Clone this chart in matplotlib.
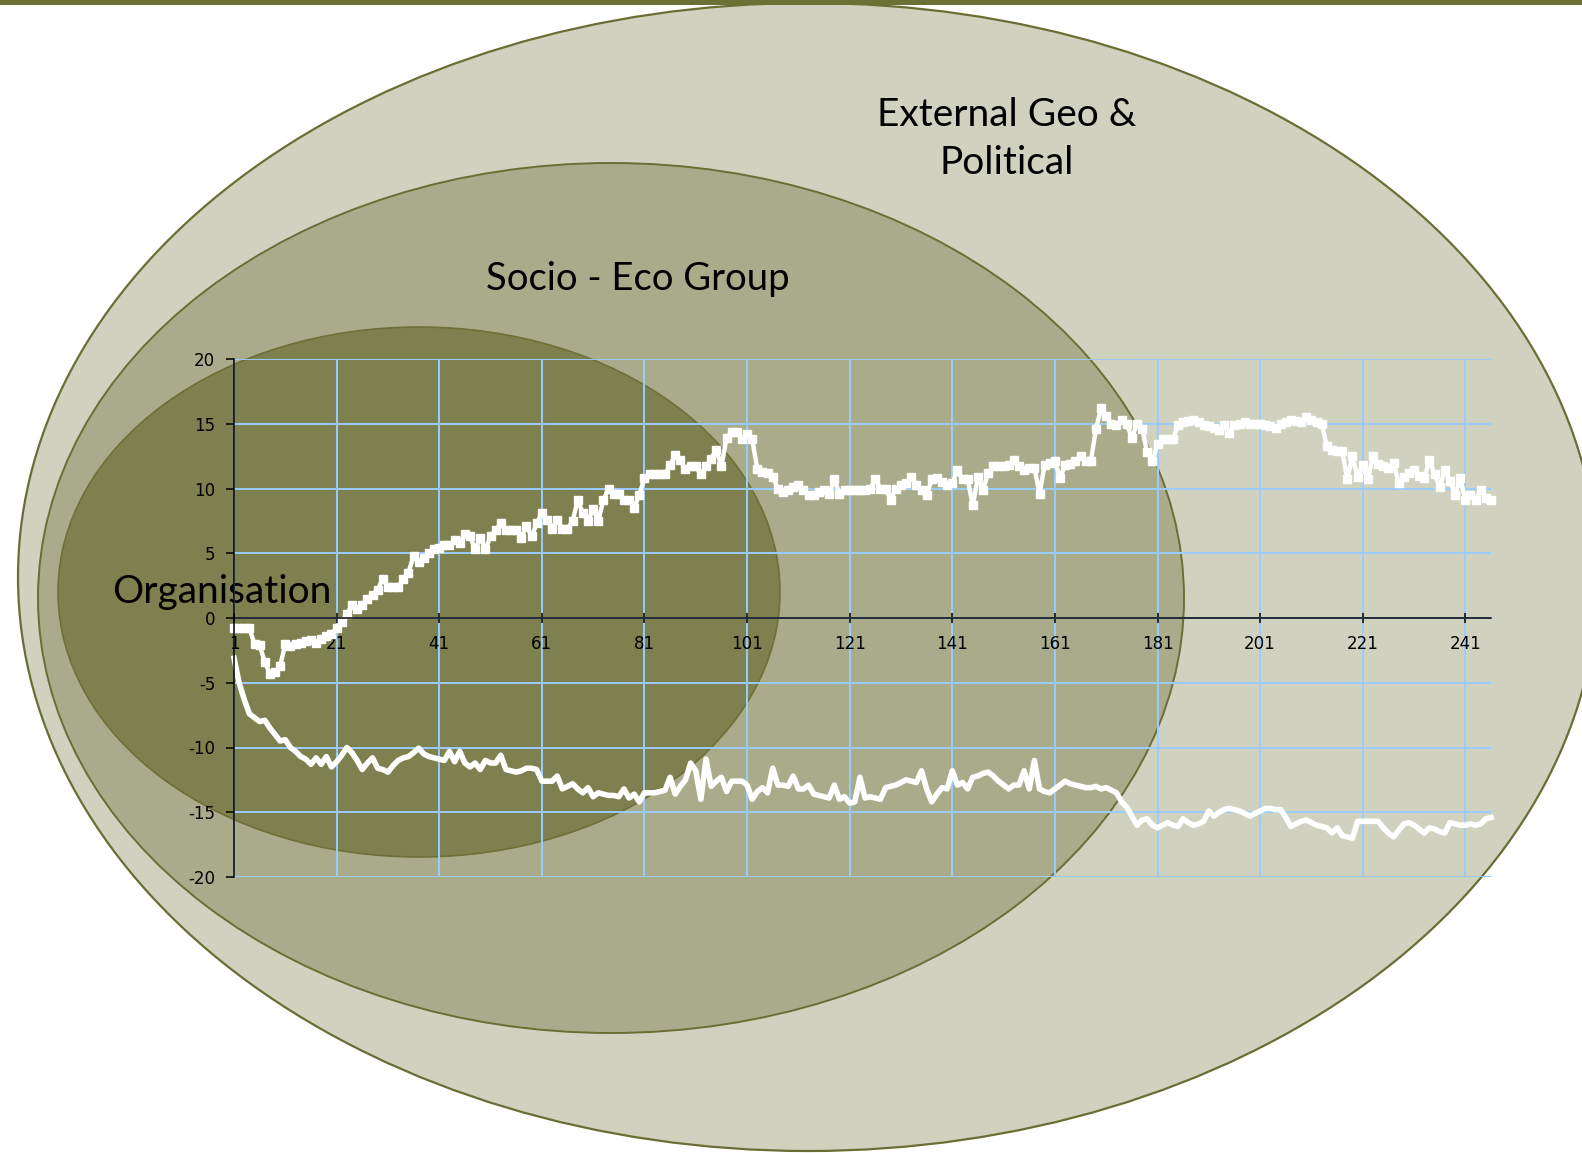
import matplotlib
matplotlib.use("Agg")
import matplotlib.pyplot as plt
from matplotlib.patches import Ellipse, Rectangle

plt.rcParams['axes.unicode_minus'] = False

# series (one value per period, 246 periods)
upper = [-0.8, -0.8, -0.8, -0.8, -2.0, -2.1, -3.4, -4.3, -4.2, -3.7,
         -2.0, -2.2, -2.0, -1.9, -1.8, -1.7, -1.9, -1.6, -1.4, -1.2,
         -0.8, -0.3, 0.3, 1.0, 0.7, 1.0, 1.5, 1.8, 2.2, 3.0,
         2.4, 2.4, 2.4, 3.0, 3.5, 4.8, 4.3, 4.6, 5.0, 5.3,
         5.4, 5.6, 5.6, 6.0, 5.8, 6.5, 6.3, 5.3, 6.2, 5.3,
         6.3, 6.8, 7.3, 6.8, 6.8, 6.8, 6.2, 7.1, 6.3, 7.3,
         8.1, 7.6, 6.9, 7.6, 6.9, 6.9, 7.5, 9.1, 8.1, 7.5,
         8.4, 7.5, 9.1, 10.0, 9.6, 9.6, 9.1, 9.1, 8.5, 9.5,
         10.8, 11.1, 11.1, 11.1, 11.1, 11.8, 12.6, 12.2, 11.5, 11.7,
         11.7, 11.1, 11.7, 12.3, 13.0, 11.7, 13.9, 14.4, 14.4, 13.8,
         14.2, 13.8, 11.5, 11.3, 11.2, 10.9, 10.0, 9.75, 9.9, 10.1,
         10.3, 9.9, 9.5, 9.5, 9.7, 9.9, 9.6, 10.7, 9.6, 9.9,
         9.9, 9.9, 9.9, 9.9, 10.0, 10.7, 10.0, 10.0, 9.1, 10.0,
         10.3, 10.4, 10.9, 10.3, 9.9, 9.5, 10.7, 10.8, 10.5, 10.3,
         10.4, 11.4, 10.7, 10.7, 8.7, 10.9, 9.9, 11.2, 11.7, 11.7,
         11.7, 11.8, 12.2, 11.7, 11.4, 11.6, 11.6, 9.6, 11.8, 12.0,
         12.1, 10.8, 11.8, 11.9, 12.1, 12.5, 12.1, 12.1, 14.6, 16.2,
         15.6, 15.0, 14.9, 15.3, 15.0, 13.9, 15.0, 14.6, 12.8, 12.1,
         13.4, 13.8, 13.8, 13.8, 14.9, 15.1, 15.2, 15.3, 15.1, 14.9,
         14.8, 14.7, 14.5, 14.9, 14.3, 14.9, 15.0, 15.1, 15.0, 15.0,
         15.0, 14.9, 14.8, 14.7, 15.0, 15.1, 15.3, 15.2, 15.1, 15.5,
         15.3, 15.1, 15.0, 13.3, 13.0, 12.9, 12.9, 10.7, 12.5, 10.9,
         11.8, 10.7, 12.5, 11.9, 11.7, 11.6, 12.0, 10.4, 10.9, 11.2,
         11.4, 11.0, 10.8, 12.2, 11.1, 10.1, 11.4, 10.6, 9.5, 10.8,
         9.1, 9.5, 9.1, 9.9, 9.3, 9.1]

lower = [-3.1, -5.0, -6.3, -7.4, -7.7, -8.0, -7.9, -8.5, -9.0, -9.5,
         -9.4, -10.0, -10.3, -10.7, -10.9, -11.3, -10.8, -11.3, -10.7, -11.5,
         -11.1, -10.6, -10.0, -10.4, -11.0, -11.7, -11.2, -10.8, -11.6, -11.7,
         -11.9, -11.4, -11.0, -10.8, -10.7, -10.4, -10.05, -10.5, -10.7, -10.8,
         -10.9, -11.0, -10.3, -11.1, -10.3, -11.2, -11.5, -11.2, -11.7, -11.0,
         -11.2, -11.2, -10.6, -11.7, -11.8, -11.9, -11.8, -11.6, -11.6, -11.7,
         -12.6, -12.6, -12.6, -12.2, -13.2, -13.0, -12.8, -13.2, -13.5, -13.1,
         -13.8, -13.5, -13.6, -13.7, -13.7, -13.8, -13.2, -13.9, -13.6, -14.2,
         -13.5, -13.5, -13.5, -13.4, -13.3, -12.3, -13.6, -13.0, -12.5, -11.2,
         -11.8, -14.0, -10.9, -13.0, -12.6, -12.3, -13.4, -12.6, -12.6, -12.6,
         -12.9, -14.0, -13.4, -13.1, -13.5, -11.6, -12.9, -12.9, -13.0, -12.2,
         -13.2, -13.2, -12.9, -13.6, -13.7, -13.8, -13.9, -12.9, -14.0, -13.8,
         -14.3, -14.2, -12.3, -13.9, -13.8, -13.9, -14.0, -13.1, -13.0, -12.9,
         -12.7, -12.5, -12.6, -12.7, -11.8, -13.2, -14.2, -13.6, -13.1, -13.2,
         -11.8, -12.9, -12.7, -13.2, -12.3, -12.2, -12.0, -11.9, -12.2, -12.6,
         -12.9, -13.2, -12.9, -12.9, -11.8, -13.2, -11.0, -13.2, -13.4, -13.5,
         -13.2, -12.9, -12.6, -12.8, -12.9, -13.0, -13.1, -13.1, -13.0, -13.2,
         -13.1, -13.3, -13.5, -14.2, -14.6, -15.3, -16.0, -15.6, -15.5, -16.0,
         -16.2, -16.0, -15.8, -16.0, -16.1, -15.5, -15.8, -16.0, -15.9, -15.7,
         -14.9, -15.3, -15.0, -14.8, -14.7, -14.8, -14.9, -15.1, -15.3, -15.1,
         -14.9, -14.7, -14.7, -14.8, -14.8, -15.4, -16.1, -15.9, -15.7, -15.6,
         -15.8, -16.0, -16.1, -16.2, -16.6, -16.2, -16.8, -16.9, -17.0, -15.7,
         -15.7, -15.7, -15.7, -15.7, -16.2, -16.6, -16.9, -16.4, -15.9, -15.8,
         -16.0, -16.3, -16.6, -16.2, -16.3, -16.5, -16.6, -15.8, -15.9, -16.0,
         -16.0, -15.9, -16.0, -15.9, -15.5, -15.4]

periods = list(range(1, len(upper) + 1))
xticks = list(range(1, 242, 20))
yticks = list(range(-20, 21, 5))
circle_labels = ["External Geo &\nPolitical", "Socio - Eco Group", "Organisation"]

W, H = 1582, 1153
fig = plt.figure(figsize=(W / 100, H / 100), dpi=100)

# background layer in pixel coords: nested ellipses
bg = fig.add_axes([0, 0, 1, 1])
bg.set_xlim(0, W)
bg.set_ylim(H, 0)
bg.axis('off')

edge = '#6B6E34'
bg.add_patch(Ellipse((808, 577), 2 * 790, 2 * 574, fc='#D0D1BE', ec=edge, lw=1.6))
bg.add_patch(Ellipse((611, 598), 2 * 573, 2 * 435, fc='#AAAB8A', ec=edge, lw=1.4))
bg.add_patch(Ellipse((419, 592), 2 * 361, 2 * 265, fc='#7F8050', ec='#6E7038', lw=1.2))
bg.add_patch(Rectangle((0, 0), W, 5, fc='#6B7035', ec='none'))

font = 'Lato'
bg.text(1007, 139, circle_labels[0], ha='center', va='center', fontsize=28,
        family=font, linespacing=1.4)
bg.text(638, 279, circle_labels[1], ha='center', va='center', fontsize=27.5, family=font)
bg.text(112, 592, circle_labels[2], ha='left', va='center', fontsize=28, family=font)

# the line chart on top
ax = fig.add_axes([234 / W, 1 - 877 / H, (1491 - 234) / W, (877 - 359) / H])
ax.patch.set_alpha(0)
ax.set_xlim(1, len(upper))
ax.set_ylim(-20, 20)
ax.set_xticks(xticks)
ax.set_yticks(yticks)
ax.set_axisbelow(True)
ax.grid(True, color='#99CCFF', lw=1.4)

ax.plot(periods, lower, color='white', lw=4, solid_joinstyle='round', clip_on=False)
ax.plot(periods, upper, color='white', lw=3.2, marker='s', ms=6, clip_on=False)

ax.spines['top'].set_visible(False)
ax.spines['right'].set_visible(False)
ax.spines['bottom'].set_position(('data', 0))
ax.spines['bottom'].set_linewidth(1.1)
ax.spines['left'].set_linewidth(1.1)
ax.tick_params(axis='y', direction='out', length=5.5, width=1.1, pad=8, labelsize=12)
ax.tick_params(axis='x', direction='inout', length=7, width=1.1, pad=9, labelsize=12)

fig.savefig('out.png', dpi=100)
